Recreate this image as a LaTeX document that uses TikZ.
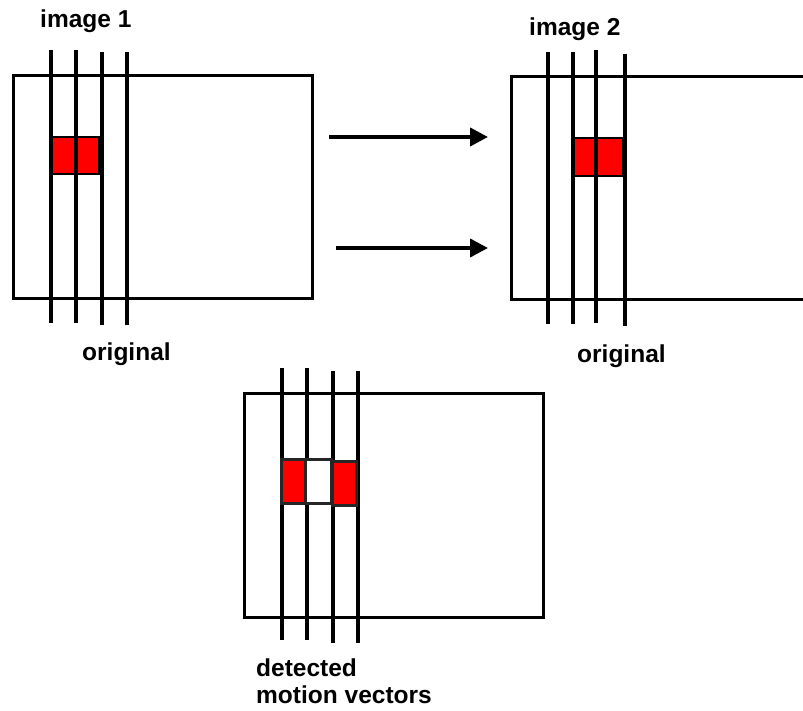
\documentclass[tikz,border=0pt]{standalone}
\usepackage{fontspec}
\setmainfont{Liberation Sans}
\usetikzlibrary{arrows.meta}
\begin{document}
\begin{tikzpicture}[x=1pt,y=-1pt,
  frame/.style={draw=black, line width=3pt, inner sep=0pt, outer sep=0pt, anchor=north west},
  vline/.style={line width=4pt},
  redbox/.style={draw=black, fill=red, line width=2.5pt},
  mvred/.style={draw=black!85, fill=red, line width=3pt},
  mvwhite/.style={draw=black!85, fill=white, line width=3pt},
  lbl/.style={font=\bfseries\fontsize{24.5}{27}\selectfont, inner sep=0pt, anchor=base west},
  arr/.style={line width=4pt, -{Triangle[length=18pt,width=18pt]}}]
\clip (0,0) rectangle (803,711);
\fill[white] (0,0) rectangle (803,711);

% frames
\node[frame, minimum width=299pt, minimum height=223pt] (f1) at (13,75.5) {};
\node[frame, minimum width=310pt, minimum height=223pt] (f2) at (511,77) {};
\node[frame, minimum width=299pt, minimum height=224pt] (f3) at (244,393) {};

% image 1
\draw[redbox] (52,137) rectangle (99,174);
\draw[vline] (51,50) -- (51,323);
\draw[vline] (76,50) -- (76,323);
\draw[vline] (102,52) -- (102,325);
\draw[vline] (127,52) -- (127,325);

% image 2
\draw[redbox] (574,138) rectangle (623,176);
\draw[vline] (548,52) -- (548,324);
\draw[vline] (573,52) -- (573,324);
\draw[vline] (596,50) -- (596,323);
\draw[vline] (625,54) -- (625,326);

% detected
\draw[vline] (282,368) -- (282,640);
\draw[vline] (307,368) -- (307,640);
\draw[vline] (333,371) -- (333,643);
\draw[vline] (358,371) -- (358,643);
\draw[mvred] (281,459) rectangle (305,503);
\draw[mvwhite] (305,459) rectangle (331,503);
\draw[mvred] (332,461) rectangle (356,505);

% arrows
\coordinate (a1s) at (329,137);
\coordinate (a1e) at (488,137);
\coordinate (a2s) at (336,248);
\coordinate (a2e) at (488,248);
\draw[arr] (a1s) -- (a1e);
\draw[arr] (a2s) -- (a2e);

% labels
\node[lbl] (t1) at (40,28) {image 1};
\node[lbl] (t2) at (529,36) {image 2};
\node[lbl] (o1) at (82,360) {original};
\node[lbl] (o2) at (577,362) {original};
\node[lbl] (d1) at (256,676) {detected};
\node[lbl] (d2) at (256,703) {motion vectors};
\end{tikzpicture}
\end{document}
